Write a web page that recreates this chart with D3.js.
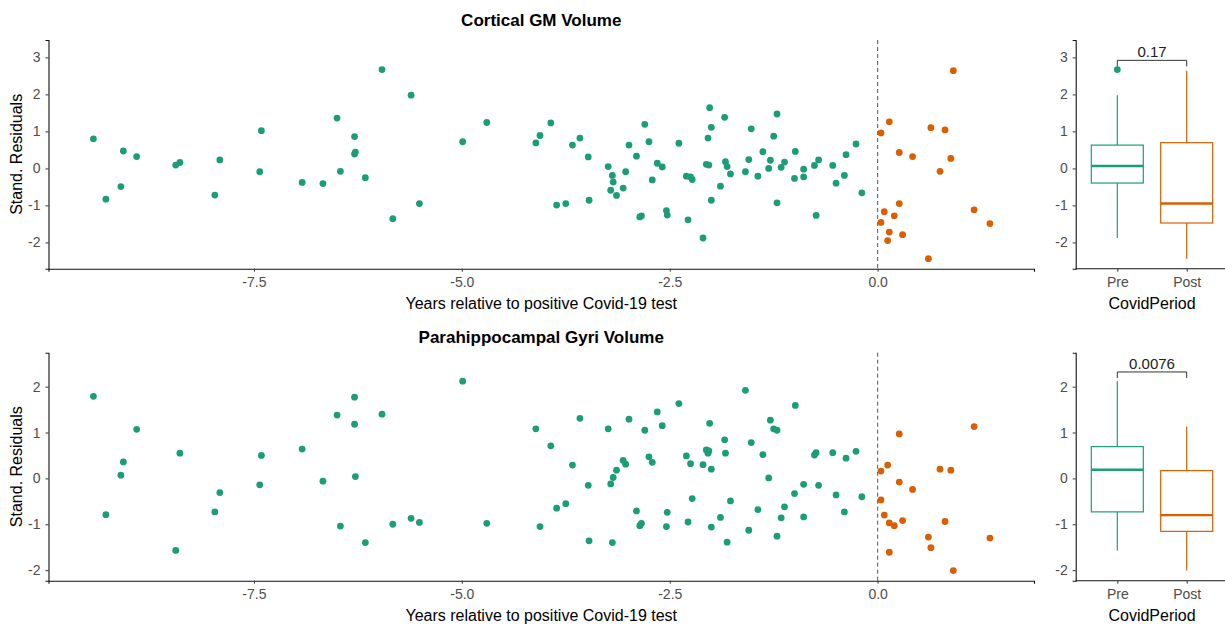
<!DOCTYPE html>
<html lang="en">
<head>
<meta charset="UTF-8" />
<title>Brain volume residuals around Covid-19 test</title>
<script src="https://d3js.org/d3.v7.min.js"></script>
<style>
  body { margin: 0; background: #fff; }
  svg { display: block; font-family: 'Liberation Sans', Arial, sans-serif; }
  .tick text { fill: #4d4d4d; font-size: 14px; }
  .tick line { stroke: #333; }
  .domain { stroke: #111; stroke-width: 1.1; }
</style>
</head>
<body>
<svg id="chart" width="1225" height="625"></svg>
<script>
// years relative to positive test, same subjects in both panels
const preYears = [
  -9.43, -9.28, -9.10, -9.07, -8.91, -8.44, -8.39, -7.97, -7.91, -7.43,
  -7.41, -6.92, -6.67, -6.50, -6.46, -6.29, -6.28, -6.29, -6.16, -5.96,
  -5.83, -5.61, -5.51, -4.99, -4.70, -4.11, -4.06, -3.93, -3.86, -3.75,
  -3.67, -3.58, -3.48, -3.47, -3.24, -3.21, -3.19, -3.18, -3.14, -3.06,
  -3.03, -2.99, -2.90, -2.86, -2.84, -2.80, -2.75, -2.71, -2.65, -2.59,
  -2.54, -2.53, -2.39, -2.30, -2.28, -2.25, -2.23, -2.10, -2.06, -2.04,
  -2.03, -2.02, -2.00, -2.00, -1.89, -1.84, -1.83, -1.81, -1.77, -1.59,
  -1.55, -1.52, -1.44, -1.38, -1.31, -1.29, -1.25, -1.21, -1.21, -1.16,
  -1.12, -1.00, -0.99, -0.89, -0.89, -0.76, -0.74, -0.71, -0.54, -0.50,
  -0.40, -0.38, -0.26, -0.19
];
const postYears = [0.04, 0.04, 0.08, 0.12, 0.14, 0.14, 0.20, 0.26, 0.26, 0.30,
  0.42, 0.61, 0.64, 0.75, 0.81, 0.88, 0.91, 1.16, 1.35];

const corticalPre = [
  0.80, -0.83, -0.49, 0.47, 0.32, 0.09, 0.16, -0.72, 0.23, -0.09,
  1.02, -0.38, -0.41, 1.36, -0.08, 0.86, 0.44, 0.39, -0.25, 2.67,
  -1.36, 1.98, -0.95, 0.72, 1.24, 0.69, 0.89, 1.23, -0.99, -0.95,
  0.63, 0.82, 0.31, -0.86, 0.05, -0.59, -0.19, -0.37, -0.73, -0.53,
  -0.09, 0.63, 0.33, -1.31, -1.28, 1.19, 0.72, -0.31, 0.14, 0.04,
  -1.14, -1.26, 0.68, -0.21, -1.39, -0.23, -0.30, -1.88, 0.11, 0.82,
  0.09, 1.64, 1.11, -0.86, -0.48, 1.38, 0.18, 0.05, -0.15, -0.09,
  0.24, 1.07, -0.21, 0.45, 0.00, 0.22, 0.87, 1.47, -0.93, 0.03,
  0.17, -0.27, 0.46, -0.02, -0.23, 0.08, -1.27, 0.23, 0.08, -0.40,
  -0.19, 0.37, 0.66, -0.66
];
const corticalPost = [0.96, -1.46, -1.17, -1.95, 1.26, -1.72, -1.28, 0.43, -0.95, -1.79,
  0.32, -2.44, 1.10, -0.08, 1.04, 0.27, 2.64, -1.12, -1.49];

const parahipPre = [
  1.79, -0.79, 0.07, 0.36, 1.07, -1.57, 0.55, -0.73, -0.31, -0.14,
  0.50, 0.64, -0.06, 1.38, -1.04, 1.77, 0.04, 1.18, -1.40, 1.40,
  -1.00, -0.87, -0.96, 2.12, -0.98, 1.08, -1.05, 0.71, -0.65, -0.55,
  0.29, 1.31, -0.15, -1.36, 1.08, -0.12, -1.40, 0.02, 0.18, 0.39,
  0.31, 1.29, -0.71, -1.03, -0.98, 1.05, 0.47, 0.35, 1.45, 1.15,
  -1.05, -0.74, 1.63, 0.49, -0.95, 0.32, -0.44, 0.30, 0.62, 0.55,
  0.60, 1.20, 0.20, -1.06, -0.85, 0.84, 0.55, -1.39, -0.49, 1.92,
  -1.13, 0.78, -0.68, 0.52, 0.01, 1.27, 1.08, 1.05, -1.26, -0.86,
  -0.62, -0.33, 1.59, -0.13, -0.84, 0.51, 0.56, -0.15, 0.56, -0.36,
  -0.73, 0.44, 0.59, -0.40
];
const parahipPost = [0.16, -0.47, -0.80, 0.29, -0.97, -1.61, -1.03, 0.97, -0.08, -0.92,
  -0.24, -1.28, -1.51, 0.20, -0.94, 0.18, -2.01, 1.13, -1.30];

const periods = ['Pre', 'Post'];
const xTicks = [-7.5, -5.0, -2.5, 0.0];
const corticalTicks = [-2, -1, 0, 1, 2, 3];
const parahipTicks = [-2, -1, 0, 1, 2];
const pLabels = ['0.17', '0.0076'];

const colors = { Pre: '#1b9e77', Post: '#d95f02' };

const panels = [
  { title: 'Cortical GM Volume', pre: corticalPre, post: corticalPost, ticks: corticalTicks,
    domain: [-2.71, 3.47], top: 40, bottom: 268.7, titleY: 26, p: pLabels[0], bracket: 2.92 },
  { title: 'Parahippocampal Gyri Volume', pre: parahipPre, post: parahipPost, ticks: parahipTicks,
    domain: [-2.23, 2.74], top: 352.7, bottom: 580.7, titleY: 343, p: pLabels[1], bracket: 2.32 }
];

// ggplot prints a plain hyphen for negatives
const loc = d3.formatLocale({ decimal: '.', thousands: ',', grouping: [3], currency: ['', ''], minus: '-' });
const fmt1 = loc.format('.1f');
const fmt0 = loc.format('d');

const svg = d3.select('#chart');
svg.append('rect').attr('width', 1225).attr('height', 625).attr('fill', '#fff');

const x = d3.scaleLinear().domain([-9.97, 1.88]).range([48.5, 1034]);
const xb = d3.scalePoint().domain(periods).range([1117.3, 1186.7]);
const boxW = 52;

function boxStats(vals) {
  const s = vals.slice().sort(d3.ascending);
  const q1 = d3.quantile(s, 0.25), med = d3.quantile(s, 0.5), q3 = d3.quantile(s, 0.75);
  const iqr = q3 - q1;
  const inside = s.filter(v => v >= q1 - 1.5 * iqr && v <= q3 + 1.5 * iqr);
  return { q1, med, q3, lo: d3.min(inside), hi: d3.max(inside),
    out: s.filter(v => v < q1 - 1.5 * iqr || v > q3 + 1.5 * iqr) };
}

panels.forEach(function (p) {
  const y = d3.scaleLinear().domain(p.domain).range([p.bottom, p.top]);

  // title
  svg.append('text')
    .attr('x', (x.range()[0] + x.range()[1]) / 2)
    .attr('y', p.titleY)
    .attr('text-anchor', 'middle')
    .attr('font-weight', 'bold')
    .attr('font-size', 17)
    .text(p.title);

  // scatter axes
  svg.append('g')
    .attr('transform', 'translate(0,' + p.bottom + ')')
    .call(d3.axisBottom(x).tickValues(xTicks).tickFormat(fmt1).tickSizeOuter(0).tickSize(3).tickPadding(5));
  svg.append('g')
    .attr('transform', 'translate(' + x.range()[0] + ',0)')
    .call(d3.axisLeft(y).tickValues(p.ticks).tickFormat(fmt0).tickSizeOuter(0).tickSize(3).tickPadding(5));

  svg.append('text')
    .attr('x', (x.range()[0] + x.range()[1]) / 2)
    .attr('y', p.bottom + 40)
    .attr('text-anchor', 'middle')
    .attr('font-size', 16)
    .text('Years relative to positive Covid-19 test');

  svg.append('text')
    .attr('transform', 'translate(22,' + (p.top + p.bottom) / 2 + ') rotate(-90)')
    .attr('text-anchor', 'middle')
    .attr('font-size', 16)
    .text('Stand. Residuals');

  // dashed line at test date
  svg.append('line')
    .attr('x1', x(0)).attr('x2', x(0))
    .attr('y1', p.top).attr('y2', p.bottom)
    .attr('stroke', '#555').attr('stroke-width', 1)
    .attr('stroke-dasharray', '4,3');

  svg.append('g').selectAll('circle')
    .data(preYears.map((d, i) => [d, p.pre[i]]))
    .join('circle')
    .attr('cx', d => x(d[0])).attr('cy', d => y(d[1]))
    .attr('r', 3.4).attr('fill', colors.Pre);
  svg.append('g').selectAll('circle')
    .data(postYears.map((d, i) => [d, p.post[i]]))
    .join('circle')
    .attr('cx', d => x(d[0])).attr('cy', d => y(d[1]))
    .attr('r', 3.4).attr('fill', colors.Post);

  // boxplot panel
  svg.append('g')
    .attr('transform', 'translate(0,' + p.bottom + ')')
    .call(d3.axisBottom(xb).tickSizeOuter(0).tickSize(3).tickPadding(5))
    .call(g => g.select('.domain').attr('d', 'M1075.7,0H1225'))
    .selectAll('.tick text').attr('font-size', 15);
  svg.append('g')
    .attr('transform', 'translate(1075.7,0)')
    .call(d3.axisLeft(y).tickValues(p.ticks).tickFormat(fmt0).tickSizeOuter(0).tickSize(3).tickPadding(5));
  svg.append('text')
    .attr('x', d3.mean(xb.range()))
    .attr('y', p.bottom + 40)
    .attr('text-anchor', 'middle')
    .attr('font-size', 16)
    .text('CovidPeriod');

  const groups = [{ k: 'Pre', v: p.pre }, { k: 'Post', v: p.post }];
  groups.forEach(function (gr) {
    const st = boxStats(gr.v);
    const cx = xb(gr.k);
    const g = svg.append('g').attr('stroke', colors[gr.k]).attr('fill', 'none');
    g.append('line').attr('x1', cx).attr('x2', cx).attr('y1', y(st.q3)).attr('y2', y(st.hi)).attr('stroke-width', 1.2);
    g.append('line').attr('x1', cx).attr('x2', cx).attr('y1', y(st.q1)).attr('y2', y(st.lo)).attr('stroke-width', 1.2);
    g.append('rect')
      .attr('x', cx - boxW / 2).attr('width', boxW)
      .attr('y', y(st.q3)).attr('height', y(st.q1) - y(st.q3))
      .attr('fill', '#fff').attr('stroke-width', 1.2);
    g.append('line').attr('x1', cx - boxW / 2).attr('x2', cx + boxW / 2)
      .attr('y1', y(st.med)).attr('y2', y(st.med)).attr('stroke-width', 2.4);
    svg.append('g').selectAll('circle').data(st.out).join('circle')
      .attr('cx', cx).attr('cy', d => y(d)).attr('r', 3.4).attr('fill', colors[gr.k]);
  });

  // significance bracket
  const by = y(p.bracket);
  svg.append('path')
    .attr('d', 'M' + xb('Pre') + ',' + (by + 6) + 'V' + by + 'H' + xb('Post') + 'V' + (by + 6))
    .attr('fill', 'none').attr('stroke', '#333').attr('stroke-width', 1);
  svg.append('text')
    .attr('x', d3.mean(xb.range()))
    .attr('y', by - 3)
    .attr('text-anchor', 'middle')
    .attr('font-size', 15)
    .attr('fill', '#222')
    .text(p.p);
});
</script>
</body>
</html>
